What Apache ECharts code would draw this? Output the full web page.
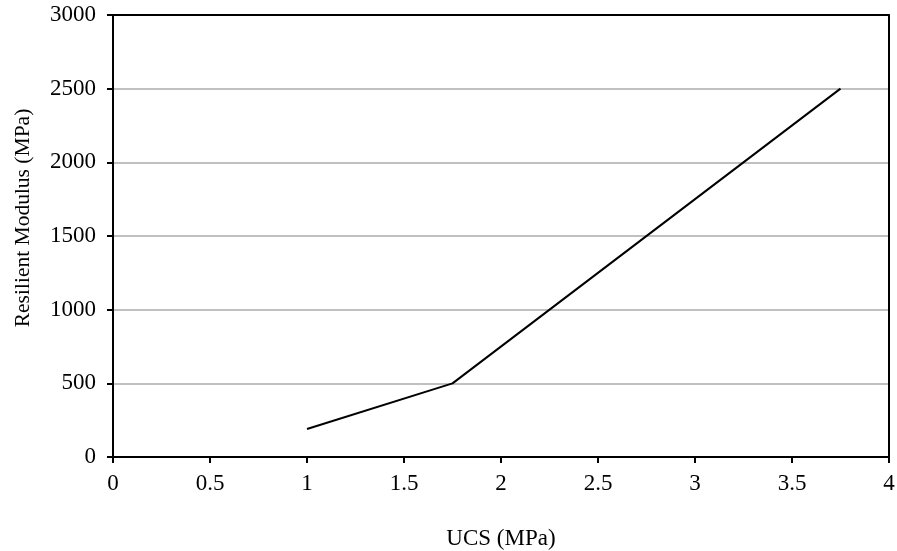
<!DOCTYPE html>
<html><head><meta charset="utf-8">
<script src="https://cdn.jsdelivr.net/npm/echarts@6/dist/echarts.min.js"></script>
<style>html,body{margin:0;padding:0;background:#fff}#c{width:897px;height:551px}</style>
</head><body><div id="c"></div>
<script>
const ucs = [1, 1.75, 3.75];
const modulus = [190, 500, 2500];
const xTitle = 'UCS (MPa)';
const yTitle = 'Resilient Modulus (MPa)';
const font = '"Liberation Serif", "Times New Roman", serif';
const chart = echarts.init(document.getElementById('c'));
const frameAxis = {
  type: 'value', axisLine: {show: true, onZero: false, lineStyle: {color: '#000', width: 2}},
  axisTick: {show: false}, axisLabel: {show: false}, splitLine: {show: false}
};
chart.setOption({
  animation: false,
  grid: {left: 113, right: 8, top: 15, bottom: 94, containLabel: false, outerBoundsMode: 'none'},
  graphic: [{
    type: 'text', x: 23, y: 218, rotation: Math.PI / 2,
    style: {text: yTitle, font: '21.5px ' + font, fill: '#000', align: 'center', verticalAlign: 'middle'}
  }],
  xAxis: [{
    type: 'value', min: 0, max: 4, interval: 0.5,
    name: xTitle, nameLocation: 'middle', nameGap: 70,
    nameTextStyle: {fontFamily: font, fontSize: 23, color: '#000'},
    axisLine: {show: true, onZero: false, lineStyle: {color: '#000', width: 2}},
    axisTick: {show: true, length: 6, lineStyle: {color: '#000', width: 2}},
    axisLabel: {fontFamily: font, fontSize: 23, color: '#000', margin: 15},
    splitLine: {show: false}
  }, Object.assign({}, frameAxis, {position: 'top', min: 0, max: 4})],
  yAxis: [{
    type: 'value', min: 0, max: 3000, interval: 500,
    axisLine: {show: true, lineStyle: {color: '#000', width: 2}},
    axisTick: {show: true, length: 6, lineStyle: {color: '#000', width: 2}},
    axisLabel: {fontFamily: font, fontSize: 23, color: '#000', margin: 17, formatter: v => String(v)},
    splitLine: {show: true, lineStyle: {color: '#c0c0c0', width: 2}}
  }, Object.assign({}, frameAxis, {position: 'right', min: 0, max: 3000})],
  series: [{
    type: 'line', data: ucs.map((x, i) => [x, modulus[i]]),
    showSymbol: false, lineStyle: {color: '#000', width: 2}
  }]
});
</script></body></html>
